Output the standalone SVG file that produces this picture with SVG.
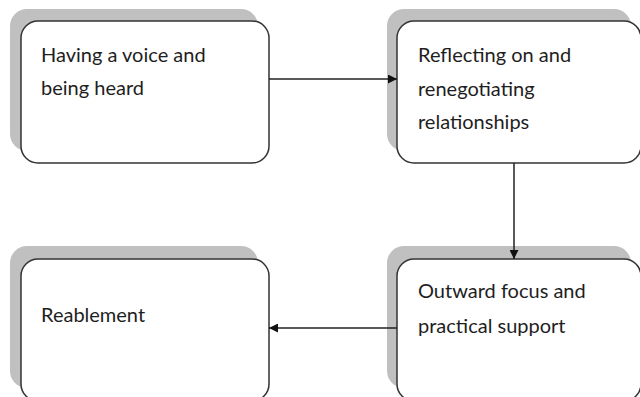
<svg xmlns="http://www.w3.org/2000/svg" width="640" height="397" viewBox="0 0 640 397">
  <style>
    .shadow { fill: #c0c0c0; }
    .box { fill: #ffffff; stroke: #333333; stroke-width: 1.5; }
    .label { font-family: "Lato", "Noto Sans", sans-serif; font-size: 20px; fill: #1e1e1e; }
    .conn { stroke: #222222; stroke-width: 1.5; fill: none; }
  </style>
  <defs>
    <marker id="arrow" viewBox="0 0 10 10" refX="10" refY="5" markerWidth="9" markerHeight="9" markerUnits="userSpaceOnUse" orient="auto">
      <path d="M0,0 L10,5 L0,10 Z" fill="#111111"/>
    </marker>
  </defs>
  <rect width="640" height="397" fill="#ffffff"/>

  <g id="node-voice">
    <rect class="shadow" x="10" y="9" width="248" height="142" rx="17"/>
    <rect class="box" x="21" y="21" width="248" height="142" rx="17"/>
    <text class="label" x="41" y="62">Having a voice and</text>
    <text class="label" x="41" y="95">being heard</text>
  </g>

  <g id="node-reflecting">
    <rect class="shadow" x="387" y="9" width="244" height="142" rx="17"/>
    <rect class="box" x="397" y="21" width="244" height="142" rx="17"/>
    <text class="label" x="418" y="62">Reflecting on and</text>
    <text class="label" x="418" y="96">renegotiating</text>
    <text class="label" x="418" y="129">relationships</text>
  </g>

  <g id="node-reablement">
    <rect class="shadow" x="10" y="246" width="248" height="142" rx="17"/>
    <rect class="box" x="21" y="259" width="248" height="142" rx="17"/>
    <text class="label" x="41" y="322">Reablement</text>
  </g>

  <g id="node-outward">
    <rect class="shadow" x="387" y="246" width="244" height="142" rx="17"/>
    <rect class="box" x="397" y="259" width="244" height="142" rx="17"/>
    <text class="label" x="418" y="298">Outward focus and</text>
    <text class="label" x="418" y="333">practical support</text>
  </g>

  <g id="connectors">
    <line class="conn" x1="269" y1="79" x2="397" y2="79" marker-end="url(#arrow)"/>
    <line class="conn" x1="514" y1="163" x2="514" y2="259" marker-end="url(#arrow)"/>
    <line class="conn" x1="397" y1="328" x2="269" y2="328" marker-end="url(#arrow)"/>
  </g>
</svg>
